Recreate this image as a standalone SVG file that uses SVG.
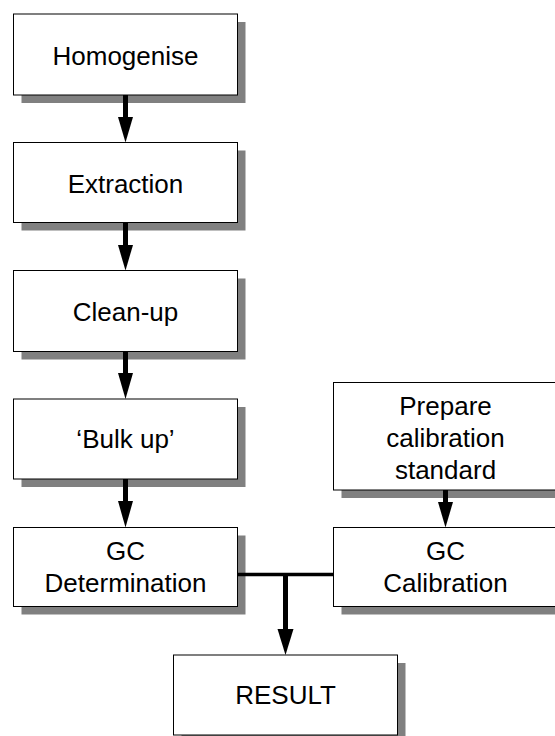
<svg xmlns="http://www.w3.org/2000/svg" width="555" height="736" viewBox="0 0 555 736">
<style>
.sh{fill:#808080}
.bx{fill:#fff;stroke:#000;stroke-width:1}
.t{font-family:"Liberation Sans",Arial,sans-serif;font-size:26px;fill:#000;text-anchor:middle}
.ln{stroke:#000;stroke-width:5;fill:none}
.hd{fill:#000}
</style>
<rect width="555" height="736" fill="#fff"/>
<g id="homogenise"><rect class="sh" x="21.5" y="22" width="224" height="81"/><rect class="bx" x="13.5" y="14" width="224" height="81"/><text class="t" x="125.5" y="65">Homogenise</text></g>
<g id="extraction"><rect class="sh" x="21.5" y="150.5" width="224" height="80"/><rect class="bx" x="13.5" y="142.5" width="224" height="80"/><text class="t" x="125.5" y="193">Extraction</text></g>
<g id="cleanup"><rect class="sh" x="21.5" y="278.5" width="224" height="81"/><rect class="bx" x="13.5" y="270.5" width="224" height="81"/><text class="t" x="125.5" y="321">Clean-up</text></g>
<g id="bulkup"><rect class="sh" x="21.5" y="407" width="224" height="80"/><rect class="bx" x="13.5" y="399" width="224" height="80"/><text class="t" x="125.5" y="448">‘Bulk up’</text></g>
<g id="gcdet"><rect class="sh" x="21.5" y="535.5" width="224" height="79"/><rect class="bx" x="13.5" y="527.5" width="224" height="79"/><text class="t" x="125.5" y="559.5">GC</text><text class="t" x="125.5" y="591.5">Determination</text></g>
<g id="prepare"><rect class="sh" x="341.5" y="390.5" width="224" height="107.5"/><rect class="bx" x="333.5" y="382.5" width="224" height="107.5"/><text class="t" x="445.5" y="415">Prepare</text><text class="t" x="445.5" y="447">calibration</text><text class="t" x="445.5" y="479">standard</text></g>
<g id="gccal"><rect class="sh" x="341.5" y="535.5" width="224" height="79"/><rect class="bx" x="333.5" y="527.5" width="224" height="79"/><text class="t" x="445.5" y="559.5">GC</text><text class="t" x="445.5" y="591.5">Calibration</text></g>
<g id="result"><rect class="sh" x="181.5" y="663" width="224" height="80"/><rect class="bx" x="173.5" y="655" width="224" height="80"/><text class="t" x="285.5" y="704">RESULT</text></g>
<g id="connectors">
<line class="ln" x1="125.5" y1="95" x2="125.5" y2="118"/><polygon class="hd" points="118,117 133,117 125.5,142.5"/>
<line class="ln" x1="125.5" y1="222.5" x2="125.5" y2="246"/><polygon class="hd" points="118,245 133,245 125.5,270.5"/>
<line class="ln" x1="125.5" y1="351.5" x2="125.5" y2="374"/><polygon class="hd" points="118,373 133,373 125.5,399"/>
<line class="ln" x1="125.5" y1="479" x2="125.5" y2="502"/><polygon class="hd" points="118,501 133,501 125.5,527.5"/>
<line class="ln" x1="445.5" y1="490" x2="445.5" y2="503"/><polygon class="hd" points="438,502 453,502 445.5,527.5"/>
<line stroke="#000" stroke-width="3.5" x1="237.5" y1="574.5" x2="333.5" y2="574.5"/>
<line class="ln" x1="285.5" y1="574.5" x2="285.5" y2="630"/><polygon class="hd" points="277.5,629 293.5,629 285.5,655"/>
</g>
</svg>
